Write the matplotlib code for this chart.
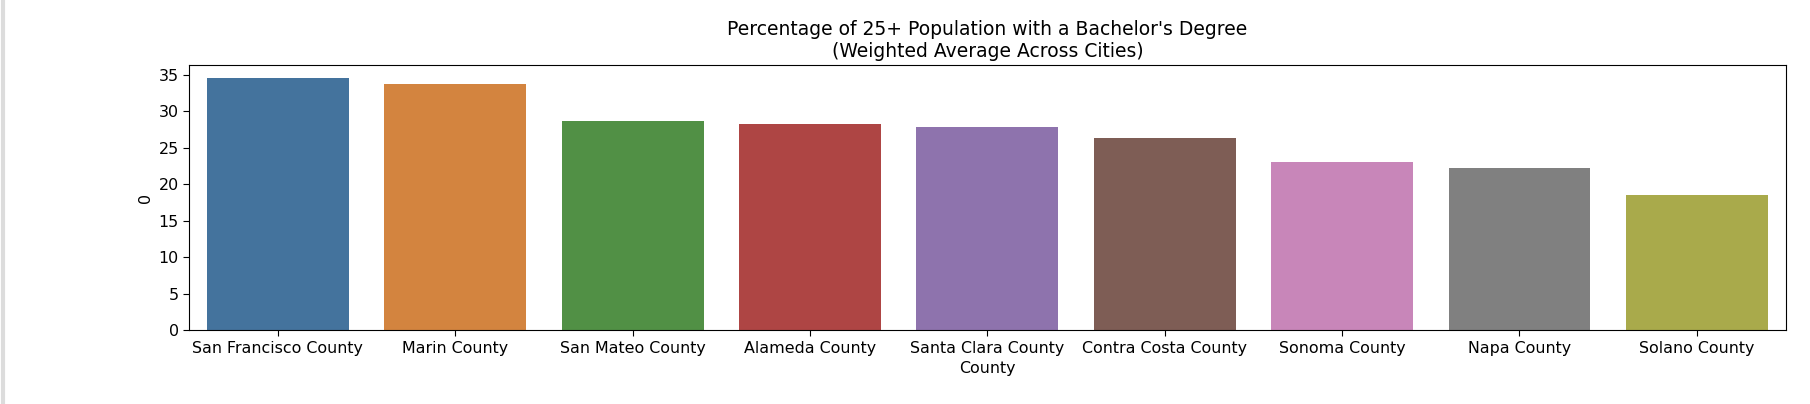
import matplotlib
matplotlib.use("Agg")
import matplotlib.pyplot as plt
import seaborn as sns
from matplotlib.lines import Line2D

# county averages
counties = ['San Francisco County', 'Marin County', 'San Mateo County', 'Alameda County',
            'Santa Clara County', 'Contra Costa County', 'Sonoma County', 'Napa County',
            'Solano County']
pct_bachelor = [34.6, 33.7, 28.7, 28.2, 27.9, 26.3, 23.0, 22.2, 18.6]

# muted tab10, as seen in the screenshot
colors = ['#44739d', '#d3843f', '#519045', '#ae4544', '#8e73ad',
          '#7e5d55', '#c886b9', '#808080', '#a9aa4b']

# the screenshot is a bit zoomed, so fonts run slightly bigger than default
plt.rcParams['font.size'] = 11.4
plt.rcParams['xtick.major.size'] = 4
plt.rcParams['ytick.major.size'] = 4

fig = plt.figure(figsize=(18.1, 4.04), dpi=100)
ax = fig.add_axes([0.1045, 0.182, 0.882, 0.657])

sns.barplot(x=counties, y=pct_bachelor, hue=counties, palette=colors,
            saturation=1, legend=False, ax=ax)

ax.set_xlabel('County', fontsize=11.4)
ax.set_ylabel('0', fontsize=11.4)
ax.tick_params(labelsize=11.4)
ax.set_title("Percentage of 25+ Population with a Bachelor's Degree\n(Weighted Average Across Cities)",
             fontsize=13.5)

# notebook cell border on the left
fig.add_artist(Line2D([0.0015, 0.0015], [0, 1], color='#dcdcdc', lw=3, transform=fig.transFigure))

fig.savefig('out.png', dpi=100)
